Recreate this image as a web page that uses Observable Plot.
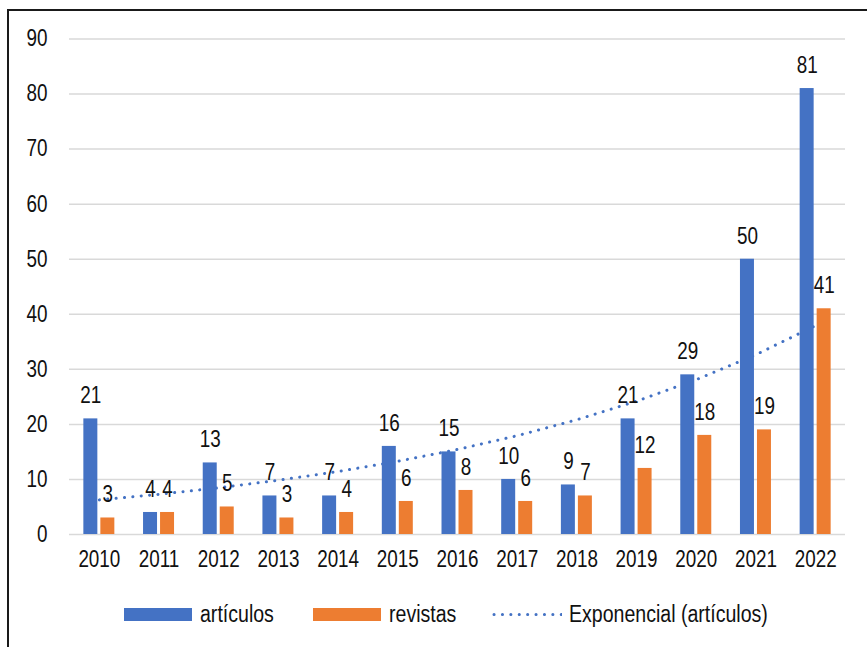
<!DOCTYPE html>
<html>
<head>
<meta charset="utf-8">
<script src="https://cdn.jsdelivr.net/npm/d3@7"></script>
<script src="https://cdn.jsdelivr.net/npm/@observablehq/plot@0.6"></script>
<style>
  html, body { margin: 0; padding: 0; background: #fff; }
  #wrap { position: relative; width: 867px; height: 647px; overflow: hidden; background: #fff;
          font-family: "Liberation Sans Narrow", "Arial Narrow", "Liberation Sans", sans-serif; color: #111; }
  #frame { position: absolute; left: 7px; top: 9px; width: 900px; height: 700px;
           border-left: 2px solid #1a1a1a; border-top: 2px solid #1a1a1a; }
  #chart { position: absolute; left: 0; top: 0; }
  .leg { position: absolute; top: 600px; height: 28px; display: flex; align-items: center; font-size: 23px; white-space: nowrap; }
  .leg span { display: inline-block; transform: scaleX(0.85); transform-origin: left center; }
  .sw { width: 68px; height: 13px; margin-right: 8px; }
  .dots { width: 70px; height: 13px; margin-right: 7px; }
</style>
</head>
<body>
<div id="wrap">
  <div id="chart"></div>
  <div id="frame"></div>
  <div class="leg" style="left:124px"><div class="sw" style="background:#4472C4"></div><span>artículos</span></div>
  <div class="leg" style="left:313px"><div class="sw" style="background:#ED7D31"></div><span>revistas</span></div>
  <div class="leg" style="left:492px"><svg class="dots" viewBox="0 0 70 13"><line x1="2" x2="70" y1="6.5" y2="6.5" stroke="#4472C4" stroke-width="3" stroke-linecap="round" stroke-dasharray="0.1 8.3"/></svg><span>Exponencial (artículos)</span></div>
</div>
<script>
const years = ["2010","2011","2012","2013","2014","2015","2016","2017","2018","2019","2020","2021","2022"];
const articulos = [21, 4, 13, 7, 7, 16, 15, 10, 9, 21, 29, 50, 81];
const revistas  = [3, 4, 5, 3, 4, 6, 8, 6, 7, 12, 18, 19, 41];
const yTicks = [0, 10, 20, 30, 40, 50, 60, 70, 80, 90];

const data = years.map((y, i) => ({year: y, a: articulos[i], r: revistas[i]}));

// Exponential trend (least squares on log of artículos), as Excel does
const xs = articulos.map((_, i) => i + 1);
const ls = articulos.map(v => Math.log(v));
const mx = d3.mean(xs), ml = d3.mean(ls);
const slope = d3.sum(xs.map((x, i) => (x - mx) * (ls[i] - ml))) / d3.sum(xs.map(x => (x - mx) ** 2));
const icpt = ml - slope * mx;
const trend = years.map((y, i) => ({year: y, v: Math.exp(icpt + slope * xs[i])}));

const font = '"Liberation Sans Narrow", "Arial Narrow", "Liberation Sans", sans-serif';
const fs = 23;

const chart = Plot.plot({
  width: 867,
  height: 590,
  marginLeft: 69,
  marginRight: 22,
  marginTop: 38.5,
  marginBottom: 56,
  style: {fontFamily: font, fontSize: fs + "px", color: "#111", background: "transparent", overflow: "visible"},
  x: {domain: years, padding: 0, round: false, label: null},
  y: {domain: [0, 90], label: null},
  marks: [
    Plot.ruleY(yTicks, {stroke: "#d9d9d9", strokeWidth: 1.5}),
    Plot.line(trend, {x: "year", y: "v", stroke: "#4472C4", strokeWidth: 3, strokeDasharray: "0.1 8.3", strokeLinecap: "round"}),
    Plot.barY(data, {x: "year", y: "a", fill: "#4472C4", insetLeft: 14.35, insetRight: 31.35}),
    Plot.barY(data, {x: "year", y: "r", fill: "#ED7D31", insetLeft: 31.35, insetRight: 14.35}),
    Plot.text(data, {x: "year", y: "a", text: d => String(d.a), dx: -8.5, dy: -23, fontSize: fs, fill: "#111"}),
    Plot.text(data, {x: "year", y: "r", text: d => String(d.r), dx: 8.5, dy: -23, fontSize: fs, fill: "#111"}),
    Plot.axisX({tickSize: 0, tickPadding: 16, fontSize: fs, fill: "#111"}),
    Plot.axisY({ticks: yTicks, tickSize: 0, tickPadding: 22, fontSize: fs, fill: "#111"})
  ]
});
document.getElementById("chart").appendChild(chart);
// emulate a narrow font: condense glyphs horizontally
chart.querySelectorAll("text").forEach(t => {
  const len = t.getComputedTextLength();
  if (len > 0) {
    t.setAttribute("textLength", (len * 0.82).toFixed(2));
    t.setAttribute("lengthAdjust", "spacingAndGlyphs");
  }
});
</script>
</body>
</html>
